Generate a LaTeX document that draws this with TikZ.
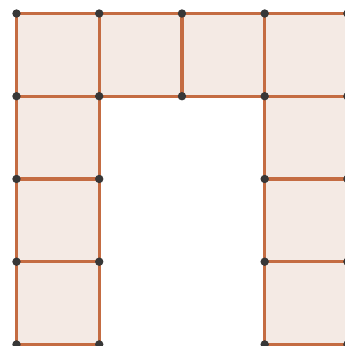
\documentclass[tikz,border=0pt]{standalone}
\definecolor{edge}{RGB}{196,108,66}
\definecolor{sqfill}{RGB}{244,234,228}
\definecolor{dot}{RGB}{55,55,55}
\tikzset{sq/.style={fill=sqfill,draw=edge,line width=2.4pt},
  pt/.style={fill=dot,draw=none}}
\begin{document}
\begin{tikzpicture}[x=0.75pt,y=-0.75pt]
\useasboundingbox (0,0) rectangle (345,346);
\clip (0,0) rectangle (345,346);
\def\d{82.73}
\def\xo{16.5}
\def\yo{13.5}
% top row
\foreach \i in {0,1,2,3}{
  \draw[sq] ({\xo+\i*\d},\yo) rectangle ({\xo+(\i+1)*\d},{\yo+\d});
}
% side columns
\foreach \j in {1,2,3}{
  \draw[sq] (\xo,{\yo+\j*\d}) rectangle ({\xo+\d},{\yo+(\j+1)*\d});
  \draw[sq] ({\xo+3*\d},{\yo+\j*\d}) rectangle ({\xo+4*\d},{\yo+(\j+1)*\d});
}
% vertices
\foreach \i in {0,...,4}{
  \fill[pt] ({\xo+\i*\d},\yo) circle (4.2);
  \fill[pt] ({\xo+\i*\d},{\yo+\d}) circle (4.2);
}
\foreach \j in {2,3,4}{
  \foreach \i in {0,1,3,4}{
    \fill[pt] ({\xo+\i*\d},{\yo+\j*\d}) circle (4.2);
  }
}
\end{tikzpicture}
\end{document}
